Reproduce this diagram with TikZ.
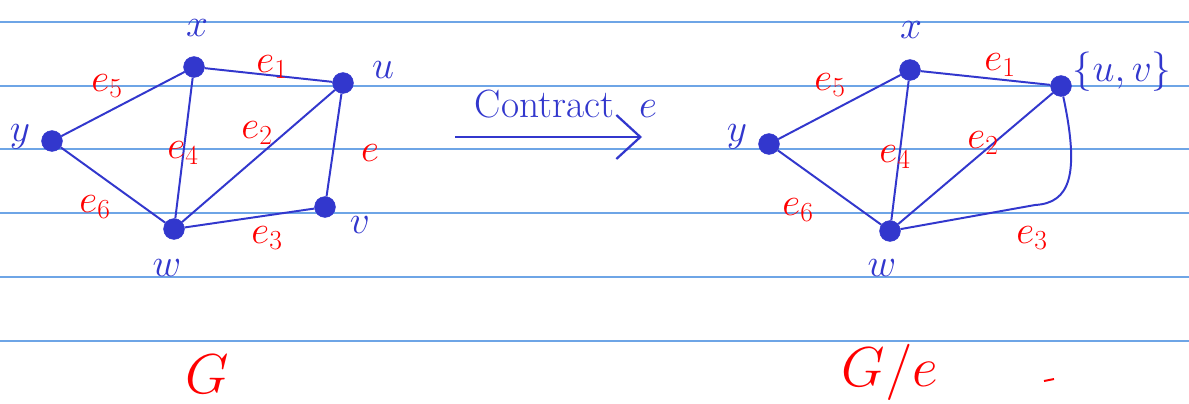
\RequirePackage{fix-cm}
\documentclass[tikz,border=0pt]{standalone}
\usepackage{tikz}
\usetikzlibrary{arrows.meta,positioning,calc}
\definecolor{handblue}{RGB}{50,55,205}
\definecolor{handred}{RGB}{255,0,0}
\definecolor{ruleblue}{RGB}{110,165,230}

\begin{document}
\begin{tikzpicture}[x=0.025cm, y=-0.025cm,
  vtx/.style={circle, fill=handblue, draw=handblue, inner sep=0pt, minimum size=0.52cm},
  lbl/.style={text=handblue, font=\fontsize{28}{30}\selectfont},
  elbl/.style={text=handred, font=\fontsize{28}{30}\selectfont},
  edge/.style={draw=handblue, line width=1.4pt},
  rule/.style={draw=ruleblue, line width=0.8pt},
  flow/.style={draw=handblue, line width=1.6pt, -{Straight Barb[length=6mm, width=11mm, line width=1.6pt]}}]
\useasboundingbox (0,0) rectangle (1189,403);
\fill[white] (0,0) rectangle (1189,403);

% ruled paper
\foreach \yy in {22,86,149,213,277,341}
  \draw[rule] (0,\yy) -- (1189,\yy);

% graph G
\node[vtx] (x1) at (194,67) {};
\node[vtx] (u1) at (343,83) {};
\node[vtx] (y1) at (52,141) {};
\node[vtx] (w1) at (174,229) {};
\node[vtx] (v1) at (325,207) {};
\node[lbl] (lx1) at (197,28) {$x$};
\node[lbl] (lu1) at (383,70) {$u$};
\node[lbl] (ly1) at (20,137) {$y$};
\node[lbl] (lw1) at (167,268) {$w$};
\node[lbl] (lv1) at (360,225) {$v$};

\draw[edge] (x1) -- (u1);
\draw[edge] (x1) -- (y1);
\draw[edge] (x1) -- (w1);
\draw[edge] (u1) -- (w1);
\draw[edge] (u1) -- (v1);
\draw[edge] (y1) -- (w1);
\draw[edge] (w1) -- (v1);

\node[elbl] (e1a) at (272,67) {$e_1$};
\node[elbl] (e2a) at (257,133) {$e_2$};
\node[elbl] (e3a) at (267,238) {$e_3$};
\node[elbl] (e4a) at (183,153) {$e_4$};
\node[elbl] (e5a) at (107,86) {$e_5$};
\node[elbl] (e6a) at (95,207) {$e_6$};
\node[elbl] (ea) at (370,153) {$e$};

% contraction arrow
\coordinate (arrs) at (455,137);
\coordinate (arre) at (642,137);
\draw[flow] (arrs) -- (arre);
\node[lbl, anchor=base west] (ctr) at (470,117) {Contract};
\node[lbl, anchor=base] (ctre) at (648,117) {$e$};

% graph G/e
\node[vtx] (x2) at (910,70) {};
\node[vtx] (uv2) at (1061,86) {};
\node[vtx] (y2) at (769,144) {};
\node[vtx] (w2) at (890,231) {};
\node[lbl] (lx2) at (911,30) {$x$};
\node[lbl, anchor=west] (luv2) at (1068,72) {$\{u,v\}$};
\node[lbl] (ly2) at (737,137) {$y$};
\node[lbl] (lw2) at (882,268) {$w$};

\draw[edge] (x2) -- (uv2);
\draw[edge] (x2) -- (y2);
\draw[edge] (x2) -- (w2);
\draw[edge] (uv2) -- (w2);
\draw[edge] (y2) -- (w2);
\draw[edge] (uv2) .. controls (1080,175) and (1070,203) .. (1035,205) -- (w2);

\node[elbl] (e1b) at (1000,65) {$e_1$};
\node[elbl] (e2b) at (983,143) {$e_2$};
\node[elbl] (e3b) at (1032,238) {$e_3$};
\node[elbl] (e4b) at (895,157) {$e_4$};
\node[elbl] (e5b) at (830,85) {$e_5$};
\node[elbl] (e6b) at (798,210) {$e_6$};

% captions
\node[elbl, font=\fontsize{40}{44}\selectfont] (g1) at (207,374) {$G$};
\node[elbl, font=\fontsize{40}{44}\selectfont] (g2) at (890,372) {$G/e$};
\draw[handred, line width=1.4pt] (1044,381) -- (1054,379);
\end{tikzpicture}
\end{document}
